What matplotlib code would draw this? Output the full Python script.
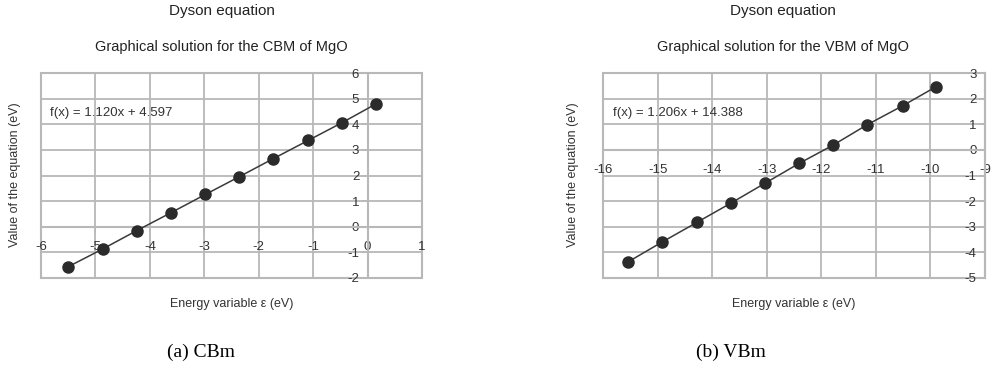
import matplotlib
matplotlib.use("Agg")
import matplotlib.pyplot as plt
from matplotlib.patches import Rectangle

plt.rcParams["font.family"] = ["Liberation Sans", "DejaVu Sans"]

# CBM panel data
cbm_x = [-5.50, -4.86, -4.24, -3.61, -2.98, -2.36, -1.73, -1.09, -0.47, 0.16]
cbm_y = [-1.56, -0.86, -0.15, 0.55, 1.26, 1.95, 2.66, 3.37, 4.06, 4.80]
cbm_xticks = [-6, -5, -4, -3, -2, -1, 0, 1]
cbm_yticks = [-2, -1, 0, 1, 2, 3, 4, 5, 6]

# VBM panel data
vbm_x = [-15.54, -14.92, -14.28, -13.65, -13.03, -12.40, -11.78, -11.16, -10.51, -9.90]
vbm_y = [-4.37, -3.60, -2.83, -2.07, -1.30, -0.52, 0.19, 0.98, 1.72, 2.46]
vbm_xticks = [-16, -15, -14, -13, -12, -11, -10, -9]
vbm_yticks = [-5, -4, -3, -2, -1, 0, 1, 2, 3]

W, H = 991, 388
fig = plt.figure(figsize=(W / 100, H / 100), dpi=100)

GRID = "#b8b8b8"
TXT = "#333333"
DOT = "#2b2b2b"


def panel(rect, xs, ys, xticks, yticks, yaxis_x, eq, sub, cx, ylab_x, eq_x, caption, cap_x):
    ax = fig.add_axes(rect)
    ax.set_xlim(xticks[0], xticks[-1])
    ax.set_ylim(yticks[0], yticks[-1])
    ax.set_xticks(xticks)
    ax.set_yticks(yticks)
    ax.grid(True, color=GRID, linewidth=1.3)
    ax.set_axisbelow(True)
    for s in ["top", "right"]:
        ax.spines[s].set_visible(False)
    ax.spines["left"].set_position(("data", yaxis_x))
    ax.spines["bottom"].set_position(("data", 0))
    for s in ["left", "bottom"]:
        ax.spines[s].set_color(GRID)
        ax.spines[s].set_linewidth(1.5)
    ax.add_patch(Rectangle((0, 0), 1, 1, transform=ax.transAxes, fill=False,
                           edgecolor=GRID, linewidth=1.5, clip_on=False, zorder=0.5))
    ax.tick_params(axis="both", colors=GRID, labelcolor=TXT, labelsize=9.5,
                   length=4, width=1.2)
    ax.tick_params(axis="x", pad=6)
    ax.tick_params(axis="y", pad=2)
    ax.set_xticklabels([str(t) for t in xticks])
    ax.set_yticklabels([str(t) for t in yticks])
    ax.patch.set_alpha(0)

    ax.plot(xs, ys, color="#3a3a3a", linewidth=1.1, zorder=3)
    ax.plot(xs, ys, "o", color=DOT, markersize=8, zorder=4, clip_on=False)

    fig.text(cx / W, 1 - 11 / H, "Dyson equation", ha="center", va="center",
             fontsize=11, color="#222222")
    fig.text(cx / W, 1 - 46.5 / H, sub, ha="center", va="center",
             fontsize=10.5, color="#222222")
    fig.text(ylab_x / W, 1 - 175 / H, "Value of the equation (eV)", rotation=90,
             ha="center", va="center", fontsize=9, color=TXT)
    fig.text((rect[0] + rect[2] / 2) / 1 + 0.0, 1 - 304 / H, "Energy variable ε (eV)",
             ha="center", va="center", fontsize=9, color=TXT)
    fig.text(eq_x / W, 1 - 113 / H, eq, ha="left", va="center", fontsize=9.5, color=TXT)
    fig.text(cap_x / W, 1 - 352 / H, caption, ha="center", va="center",
             fontsize=14, family="Liberation Serif", color="black")
    return ax


panel([41 / W, 1 - 278 / H, 381 / W, 205 / H], cbm_x, cbm_y, cbm_xticks, cbm_yticks,
      0, "f(x) = 1.120x + 4.597", "Graphical solution for the CBM of MgO",
      221.5, 15, 50, "(a) CBm", 201)
panel([603 / W, 1 - 278 / H, 382 / W, 205 / H], vbm_x, vbm_y, vbm_xticks, vbm_yticks,
      -9, "f(x) = 1.206x + 14.388", "Graphical solution for the VBM of MgO",
      783, 573, 613, "(b) VBm", 731)

fig.savefig("out.png", dpi=100)
